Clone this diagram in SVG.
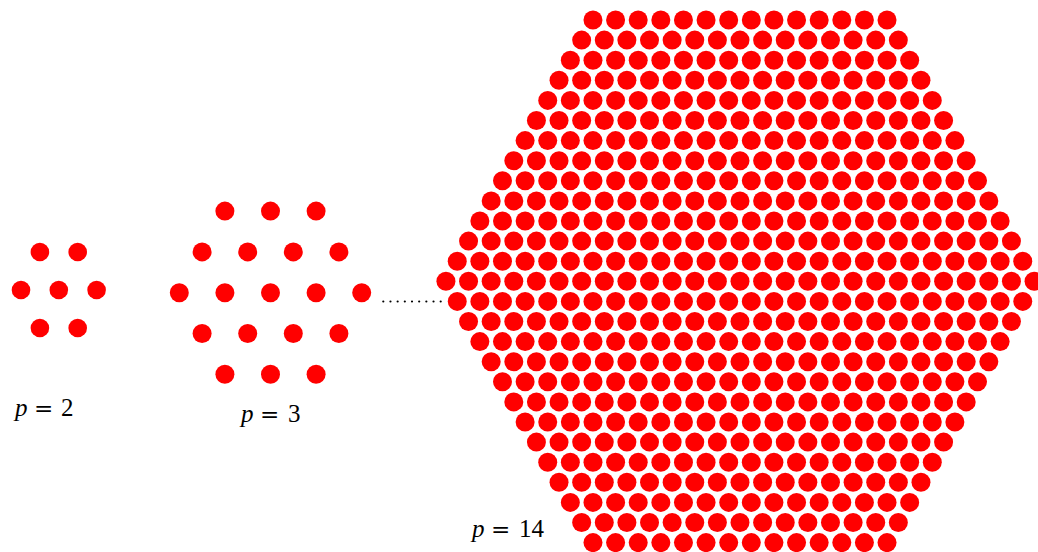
<svg xmlns="http://www.w3.org/2000/svg" xmlns:xlink="http://www.w3.org/1999/xlink" width="1038" height="552" viewBox="0 0 1038 552">
<style>
.dot{fill:#ff0000}
.lbl{font-family:"Liberation Serif","DejaVu Serif",serif;font-size:25px;fill:#000}
.it{font-style:italic}
.eq{font-family:"DejaVu Serif",serif;font-size:23px}
.ell{stroke:#000;stroke-width:2.2;stroke-linecap:round;stroke-dasharray:0 7.175;fill:none}
</style>
<defs>
<circle id="c" r="9.5" class="dot"/>
<g id="r2"><use href="#c"/><use href="#c" x="22.62"/></g>
<g id="r4"><use href="#r2"/><use href="#r2" x="45.24"/></g>
<g id="r8"><use href="#r4"/><use href="#r4" x="90.48"/></g>
<g id="R14"><use href="#r8"/><use href="#r4" x="180.96"/><use href="#r2" x="271.44"/></g>
<g id="R15"><use href="#R14"/><use href="#c" x="316.68"/></g>
<g id="R16"><use href="#R15"/><use href="#c" x="339.3"/></g>
<g id="R17"><use href="#R16"/><use href="#c" x="361.92"/></g>
<g id="R18"><use href="#R17"/><use href="#c" x="384.54"/></g>
<g id="R19"><use href="#R18"/><use href="#c" x="407.16"/></g>
<g id="R20"><use href="#R19"/><use href="#c" x="429.78"/></g>
<g id="R21"><use href="#R20"/><use href="#c" x="452.4"/></g>
<g id="R22"><use href="#R21"/><use href="#c" x="475.02"/></g>
<g id="R23"><use href="#R22"/><use href="#c" x="497.64"/></g>
<g id="R24"><use href="#R23"/><use href="#c" x="520.26"/></g>
<g id="R25"><use href="#R24"/><use href="#c" x="542.88"/></g>
<g id="R26"><use href="#R25"/><use href="#c" x="565.5"/></g>
<g id="R27"><use href="#R26"/><use href="#c" x="588.12"/></g>
</defs>

<g id="hex-p2">
<circle class="dot" r="9.3" cx="39.9" cy="252"/>
<circle class="dot" r="9.3" cx="77.7" cy="252"/>
<circle class="dot" r="9.3" cx="21" cy="290"/>
<circle class="dot" r="9.3" cx="58.8" cy="290"/>
<circle class="dot" r="9.3" cx="96.6" cy="290"/>
<circle class="dot" r="9.3" cx="39.9" cy="328"/>
<circle class="dot" r="9.3" cx="77.7" cy="328"/>
</g>

<g id="hex-p3">
<circle class="dot" r="9.5" cx="224.9" cy="211.1"/>
<circle class="dot" r="9.5" cx="270.5" cy="211.1"/>
<circle class="dot" r="9.5" cx="316.1" cy="211.1"/>
<circle class="dot" r="9.5" cx="202.1" cy="251.9"/>
<circle class="dot" r="9.5" cx="247.7" cy="251.9"/>
<circle class="dot" r="9.5" cx="293.3" cy="251.9"/>
<circle class="dot" r="9.5" cx="338.9" cy="251.9"/>
<circle class="dot" r="9.5" cx="179.3" cy="292.7"/>
<circle class="dot" r="9.5" cx="224.9" cy="292.7"/>
<circle class="dot" r="9.5" cx="270.5" cy="292.7"/>
<circle class="dot" r="9.5" cx="316.1" cy="292.7"/>
<circle class="dot" r="9.5" cx="361.7" cy="292.7"/>
<circle class="dot" r="9.5" cx="202.1" cy="333.5"/>
<circle class="dot" r="9.5" cx="247.7" cy="333.5"/>
<circle class="dot" r="9.5" cx="293.3" cy="333.5"/>
<circle class="dot" r="9.5" cx="338.9" cy="333.5"/>
<circle class="dot" r="9.5" cx="224.9" cy="374.3"/>
<circle class="dot" r="9.5" cx="270.5" cy="374.3"/>
<circle class="dot" r="9.5" cx="316.1" cy="374.3"/>
</g>

<g id="ellipsis">
<line class="ell" x1="383.3" y1="301.5" x2="440.8" y2="301.5"/>
</g>

<g id="hex-p14">
<use href="#R14" x="592.97" y="20"/>
<use href="#R15" x="581.66" y="40.1"/>
<use href="#R16" x="570.35" y="60.2"/>
<use href="#R17" x="559.04" y="80.3"/>
<use href="#R18" x="547.73" y="100.4"/>
<use href="#R19" x="536.42" y="120.5"/>
<use href="#R20" x="525.11" y="140.6"/>
<use href="#R21" x="513.8" y="160.7"/>
<use href="#R22" x="502.49" y="180.8"/>
<use href="#R23" x="491.18" y="200.9"/>
<use href="#R24" x="479.87" y="221"/>
<use href="#R25" x="468.56" y="241.1"/>
<use href="#R26" x="457.25" y="261.2"/>
<use href="#R27" x="445.94" y="281.3"/>
<use href="#R26" x="457.25" y="301.4"/>
<use href="#R25" x="468.56" y="321.5"/>
<use href="#R24" x="479.87" y="341.6"/>
<use href="#R23" x="491.18" y="361.7"/>
<use href="#R22" x="502.49" y="381.8"/>
<use href="#R21" x="513.8" y="401.9"/>
<use href="#R20" x="525.11" y="422"/>
<use href="#R19" x="536.42" y="442.1"/>
<use href="#R18" x="547.73" y="462.2"/>
<use href="#R17" x="559.04" y="482.3"/>
<use href="#R16" x="570.35" y="502.4"/>
<use href="#R15" x="581.66" y="522.5"/>
<use href="#R14" x="592.97" y="542.6"/>
</g>

<g id="labels">
<text class="lbl" y="416"><tspan class="it" x="15">p</tspan><tspan class="eq" x="34">=</tspan><tspan x="61">2</tspan></text>
<text class="lbl" y="422"><tspan class="it" x="241">p</tspan><tspan class="eq" x="260">=</tspan><tspan x="288">3</tspan></text>
<text class="lbl" y="537"><tspan class="it" x="472">p</tspan><tspan class="eq" x="491">=</tspan><tspan x="519">14</tspan></text>
</g>
</svg>
